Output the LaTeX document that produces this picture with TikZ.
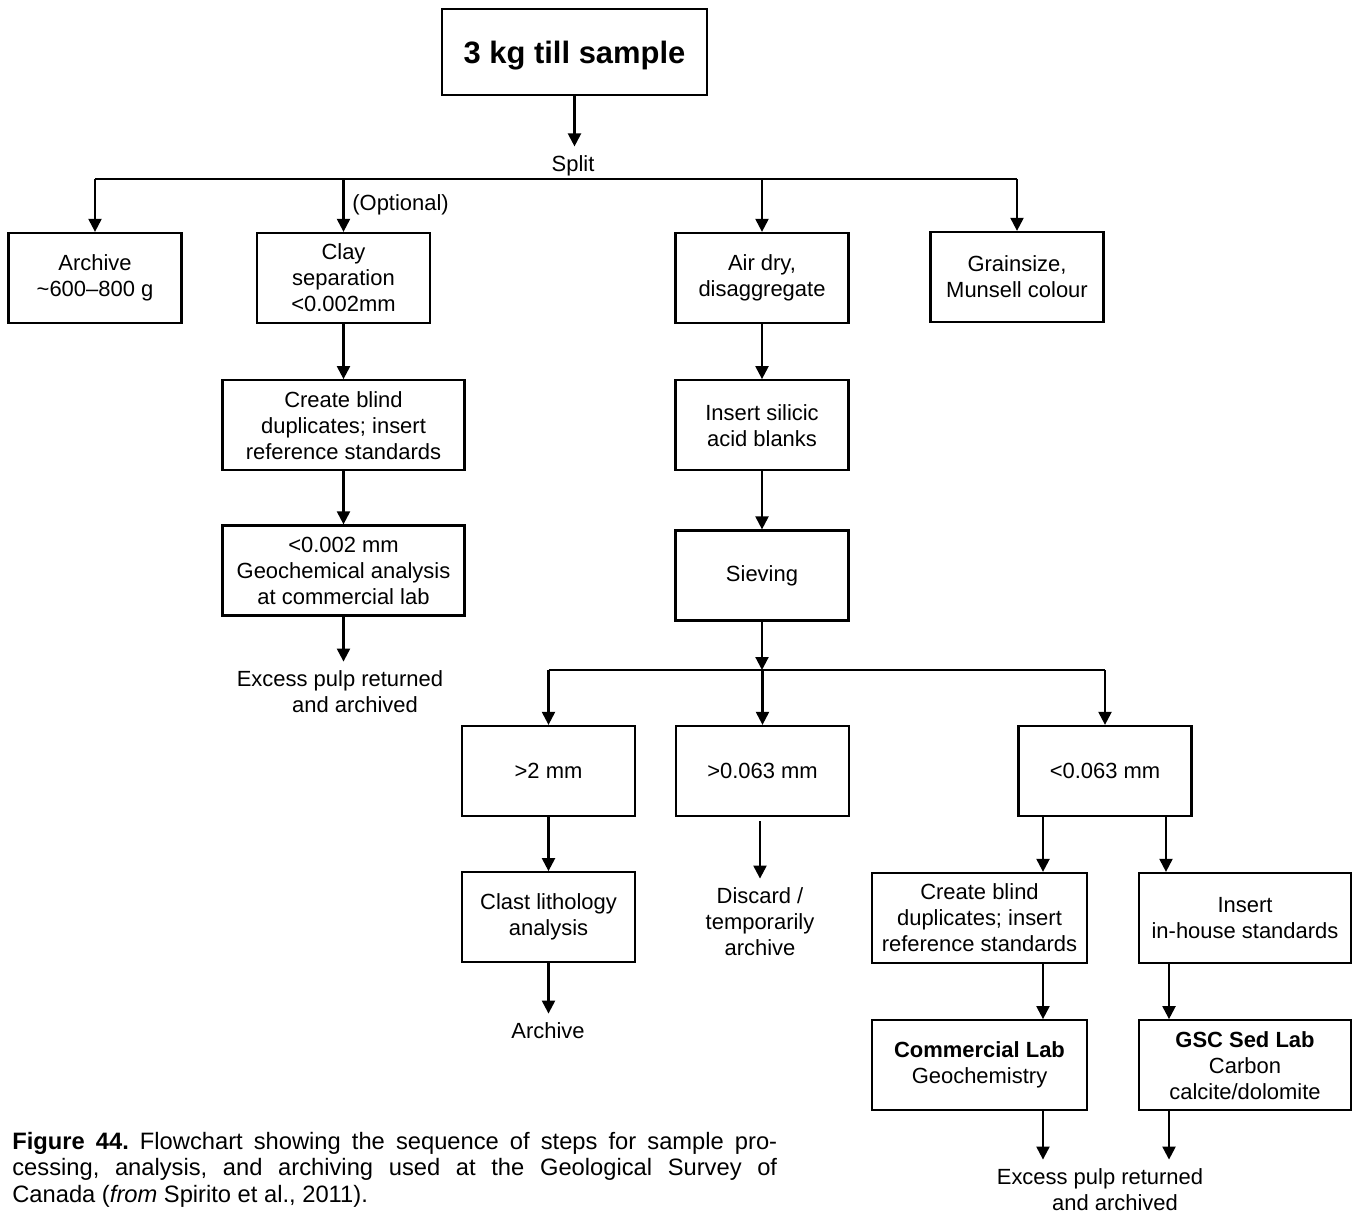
\documentclass[tikz,border=0pt]{standalone}
\usepackage{fontspec}
\setmainfont{Liberation Sans}
\usepackage{tikz}
\usetikzlibrary{positioning,arrows.meta,calc}

\tikzset{
  stage/.style={draw, line width=1.3pt, minimum width=3.46cm, minimum height=1.8cm,
                align=center, inner sep=0pt, font=\fontsize{12.5}{14.8}\selectfont},
  note/.style={align=center, inner sep=0.18cm, font=\fontsize{12.5}{14.8}\selectfont},
  flow/.style={line width=1.25pt, -{Triangle[width=7.4pt,length=7.4pt]}},
  bus/.style={line width=1.25pt},
}

\begin{document}
\begin{tikzpicture}[x=0.02cm,y=-0.02cm]
\useasboundingbox (0,0) rectangle (1353,1213);

% sample and the first split
\node[stage, minimum width=5.3cm, minimum height=1.72cm, text depth=0pt,
      font=\bfseries\fontsize{17.6}{20}\selectfont] (sample) at (574.5,52) {3 kg till sample};
\node[note] (split) at (573,166) {Split};
\coordinate (bus1) at (0,179);

\node[stage] (archive) at (95,278)     {Archive\\\textasciitilde600--800 g};
\node[stage] (clay)    at (343.5,278)  {Clay\\separation\\<0.002mm};
\node[stage] (airdry)  at (762,278)    {Air dry,\\disaggregate};
\node[stage] (grain)   at (1017,277)   {Grainsize,\\Munsell colour};
\node[note, anchor=west, inner sep=0pt] (optional) at (352,205) {(Optional)};

% clay branch
\node[stage, minimum width=4.84cm] (blindL)  [below = 1.1cm of clay]    {Create blind\\duplicates; insert\\reference standards};
\node[stage, minimum width=4.84cm] (geochem) [below = 1.06cm of blindL] {<0.002 mm\\Geochemical analysis\\at commercial lab};
\node[note] (excessL) at (340,692) {Excess pulp returned\\\hspace*{0.6cm}and archived};

% main branch
\node[stage] (silicic) [below = 1.1cm of airdry]   {Insert silicic\\acid blanks};
\node[stage] (sieve)   [below = 1.16cm of silicic] {Sieving};
\coordinate (bus2) at (0,670);

\node[stage] (coarse) at (548.5,771) {>2 mm};
\node[stage] (sand)   at (762.5,771) {>0.063 mm};
\node[stage] (fine)   at (1105,771)  {<0.063 mm};

\node[stage] (clast) [below = 1.08cm of coarse] {Clast lithology\\analysis};
\node[note] (archiveC) at (548,1031) {Archive};
\node[note] (discard)  at (760,922)  {Discard /\\temporarily\\archive};

\node[stage, minimum width=4.3cm]  (blindR)  at (979.5,918) {Create blind\\duplicates; insert\\reference standards};
\node[stage, minimum width=4.24cm] (inhouse) at (1245,918)  {Insert\\in-house standards};
\node[stage, minimum width=4.3cm]  (commlab) [below = 1.1cm of blindR]  {\textbf{Commercial Lab}\\Geochemistry};
\node[stage, minimum width=4.24cm] (gsclab)  [below = 1.1cm of inhouse] {\textbf{GSC Sed Lab}\\Carbon\\calcite/dolomite};
\node[note] (excessR) at (1100,1190) {Excess pulp returned\\\hspace*{0.6cm}and archived};

% connectors
\draw[flow] (sample) -- (sample |- split.north);
\draw[bus] (archive.north |- bus1) -- (grain.north |- bus1);
\foreach \n in {archive,clay,airdry,grain} {
\draw[flow] (\n.north |- bus1) -- (\n.north);
}
\draw[flow] (clay) -- (blindL);
\draw[flow] (blindL) -- (geochem);
\draw[flow] (geochem) -- (excessL.north -| geochem.south);
\draw[flow] (airdry) -- (silicic);
\draw[flow] (silicic) -- (sieve);
\draw[flow] (sieve.south) -- (sieve.south |- bus2);
\draw[bus] (coarse.north |- bus2) -- (fine.north |- bus2);
\foreach \n in {coarse,sand,fine} {
\draw[flow] (\n.north |- bus2) -- (\n.north);
}
\draw[flow] (coarse) -- (clast);
\draw[flow] (clast) -- (clast |- archiveC.north);
\draw[flow] ([xshift=-0.05cm,yshift=-0.08cm]sand.south) -- ([xshift=-0.05cm]sand.south |- discard.north);
\draw[flow] ([xshift=-1.24cm]fine.south) -- ([xshift=-1.24cm]fine.south |- blindR.north);
\draw[flow] ([xshift=1.22cm]fine.south) -- ([xshift=1.22cm]fine.south |- inhouse.north);
\draw[flow] ([xshift=1.27cm]blindR.south) -- ([xshift=1.27cm]blindR.south |- commlab.north);
\draw[flow] ([xshift=-1.52cm]inhouse.south) -- ([xshift=-1.52cm]inhouse.south |- gsclab.north);
\draw[flow] ([xshift=1.27cm]commlab.south) -- ([xshift=1.27cm]commlab.south |- excessR.north);
\draw[flow] ([xshift=-1.52cm]gsclab.south) -- ([xshift=-1.52cm]gsclab.south |- excessR.north);

% caption
\node[anchor=north west, inner sep=0pt, text width=15.3cm, align=justify,
      font=\frenchspacing\fontsize{13.5}{15}\selectfont] (caption) at (12,1132)
  {\textbf{Figure 44.} Flowchart showing the sequence of steps for sample pro-\linebreak
   cessing, analysis, and archiving used at the Geological Survey of\linebreak
   Canada (\textit{from} Spirito et al., 2011).};
\end{tikzpicture}
\end{document}
